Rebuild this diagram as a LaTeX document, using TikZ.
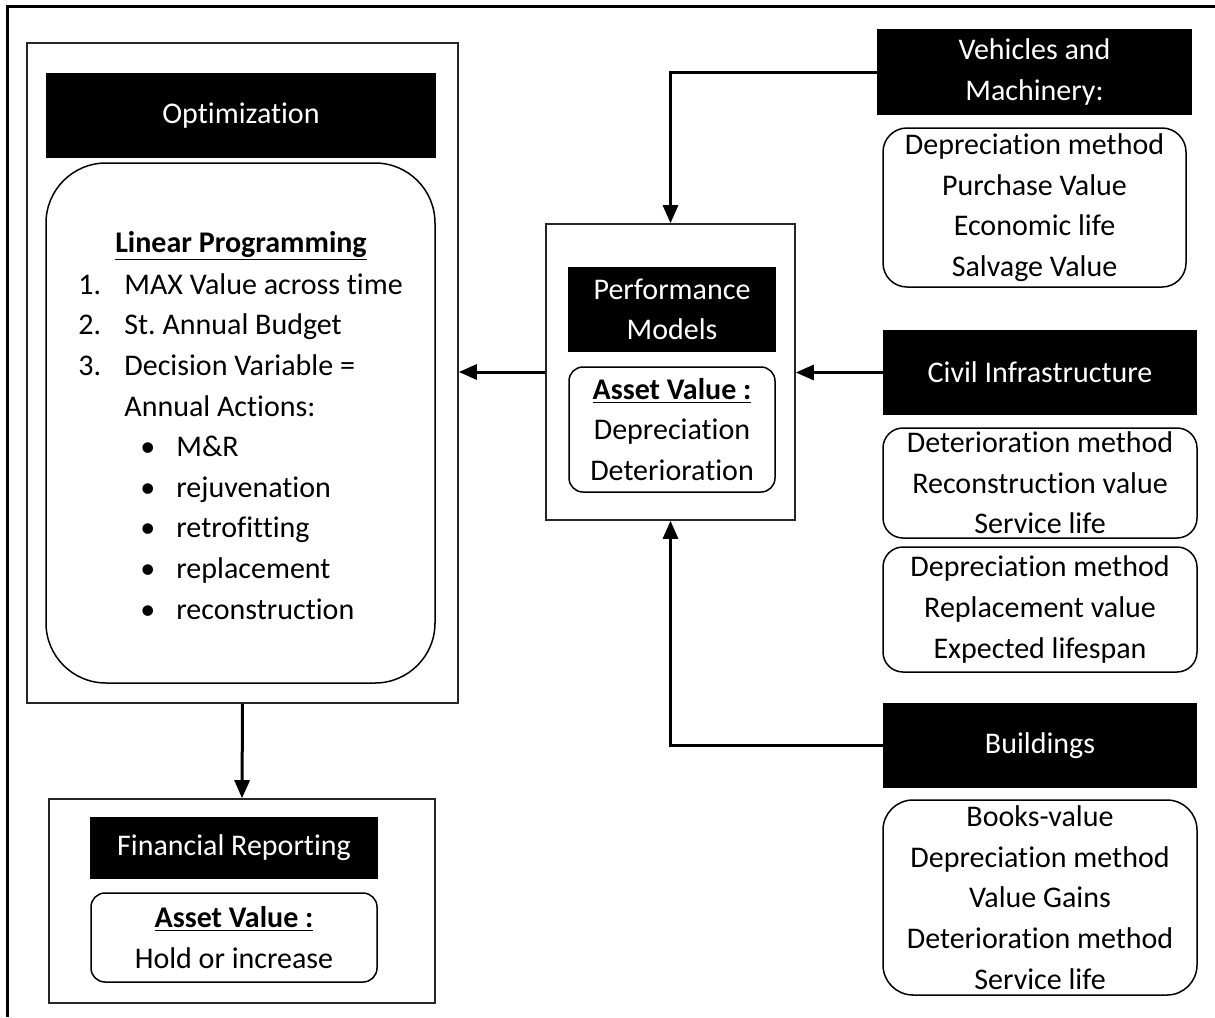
\documentclass[tikz,border=0pt]{standalone}
\usepackage{fontspec}
\setmainfont[Ligatures=NoCommon]{Carlito}
\usetikzlibrary{arrows.meta,positioning}
\frenchspacing

\begin{document}
\begin{tikzpicture}[
  x=0.5pt, y=-0.5pt,
  txt/.style={font=\fontsize{15}{20.3}\selectfont},
  panel/.style={draw=black!85, line width=0.8pt, minimum width=#1},
  head/.style={txt, fill=black, text=white, align=center, inner sep=0pt, minimum height=42.5pt},
  field/.style={txt, draw, line width=0.75pt, rounded corners=10pt, align=center, inner sep=0pt},
  arr/.style={-{Triangle[length=9pt,width=7.5pt]}, line width=1.5pt},
]
  \useasboundingbox (0,0) rectangle (1215,1017);
  \draw[line width=1.5pt] (1215,6) -- (7,6) -- (7,1017);

  % optimization side
  \node[panel=215.5pt, minimum height=330pt] (optbox) at (242.5,373) {};
  \node[head, minimum width=195pt] (opttitle) at (241,115.5) {Optimization};
  \node[field, rounded corners=30pt, minimum width=194.5pt, minimum height=260pt] (lpbox) at (240.5,423) {};
  \node[txt, anchor=base, inner sep=0pt] (lphead) at (241,252) {\textbf{\underline{Linear Programming}}};
  % last line sits on the given baseline
  \node[txt, align=left, anchor=base west, inner sep=0pt] (lplist) at (78,619) {%
    \makebox[23pt][l]{1.}MAX Value across time\\
    \makebox[23pt][l]{2.}St. Annual Budget\\
    \makebox[23pt][l]{3.}Decision Variable =\\
    \hspace*{23pt}Annual Actions:\\
    \hspace*{31pt}\makebox[18pt][l]{\textbullet}M\&R\\
    \hspace*{31pt}\makebox[18pt][l]{\textbullet}rejuvenation\\
    \hspace*{31pt}\makebox[18pt][l]{\textbullet}retrofitting\\
    \hspace*{31pt}\makebox[18pt][l]{\textbullet}replacement\\
    \hspace*{31pt}\makebox[18pt][l]{\textbullet}reconstruction};

  \node[panel=193pt, minimum height=102pt] (finbox) at (242,901) {};
  \node[head, minimum width=144pt, minimum height=31pt] (fintitle) at (234,848) {Financial Reporting};
  \node[field, rounded corners=7pt, minimum width=143pt, minimum height=44.5pt] (finval) at (234,937.5)
    {\textbf{\underline{Asset Value :}}\\Hold or increase};

  % performance models
  \node[panel=124.5pt, minimum height=148pt] (perfbox) at (670.5,372) {};
  \node[head, minimum width=104pt] (perftitle) at (672,309.5) {Performance\\Models};
  \node[field, rounded corners=7pt, minimum width=103pt, minimum height=62.5pt] (perfval) at (672,429.5)
    {\textbf{\underline{Asset Value :}}\\Depreciation\\Deterioration};

  % asset classes
  \node[head, minimum width=157.5pt, minimum height=43pt] (vehtitle) at (1034.5,72) {Vehicles and\\Machinery:};
  \node[field, rounded corners=12pt, minimum width=151.5pt, minimum height=79.5pt] (vehval) at (1034.5,207.5)
    {Depreciation method\\Purchase Value\\Economic life\\Salvage Value};

  \node[head, minimum width=157pt] (civtitle) at (1040,372.5) {Civil Infrastructure};
  \node[field, minimum width=157pt, minimum height=55pt] (civval1) at (1040,483)
    {Deterioration method\\Reconstruction value\\Service life};
  \node[field, minimum width=157pt, minimum height=62.5pt] (civval2) at (1040,609.5)
    {Depreciation method\\Replacement value\\Expected lifespan};

  \node[head, minimum width=157pt] (bldtitle) at (1040,745.5) {Buildings};
  \node[field, rounded corners=15pt, minimum width=157pt, minimum height=97.5pt] (bldval) at (1040,897.5)
    {Books-value\\Depreciation method\\Value Gains\\Deterioration method\\Service life};

  \draw[arr] (vehtitle.west) -| (perfbox.north);
  \draw[arr] (civtitle.west) -- (civtitle.west -| perfbox.east);
  \draw[arr] (bldtitle.west) -| (perfbox.south);
  \draw[arr] (perfbox.west) -- (perfbox.west -| optbox.east);
  \draw[arr] (optbox.south) -- (finbox.north);
\end{tikzpicture}
\end{document}
